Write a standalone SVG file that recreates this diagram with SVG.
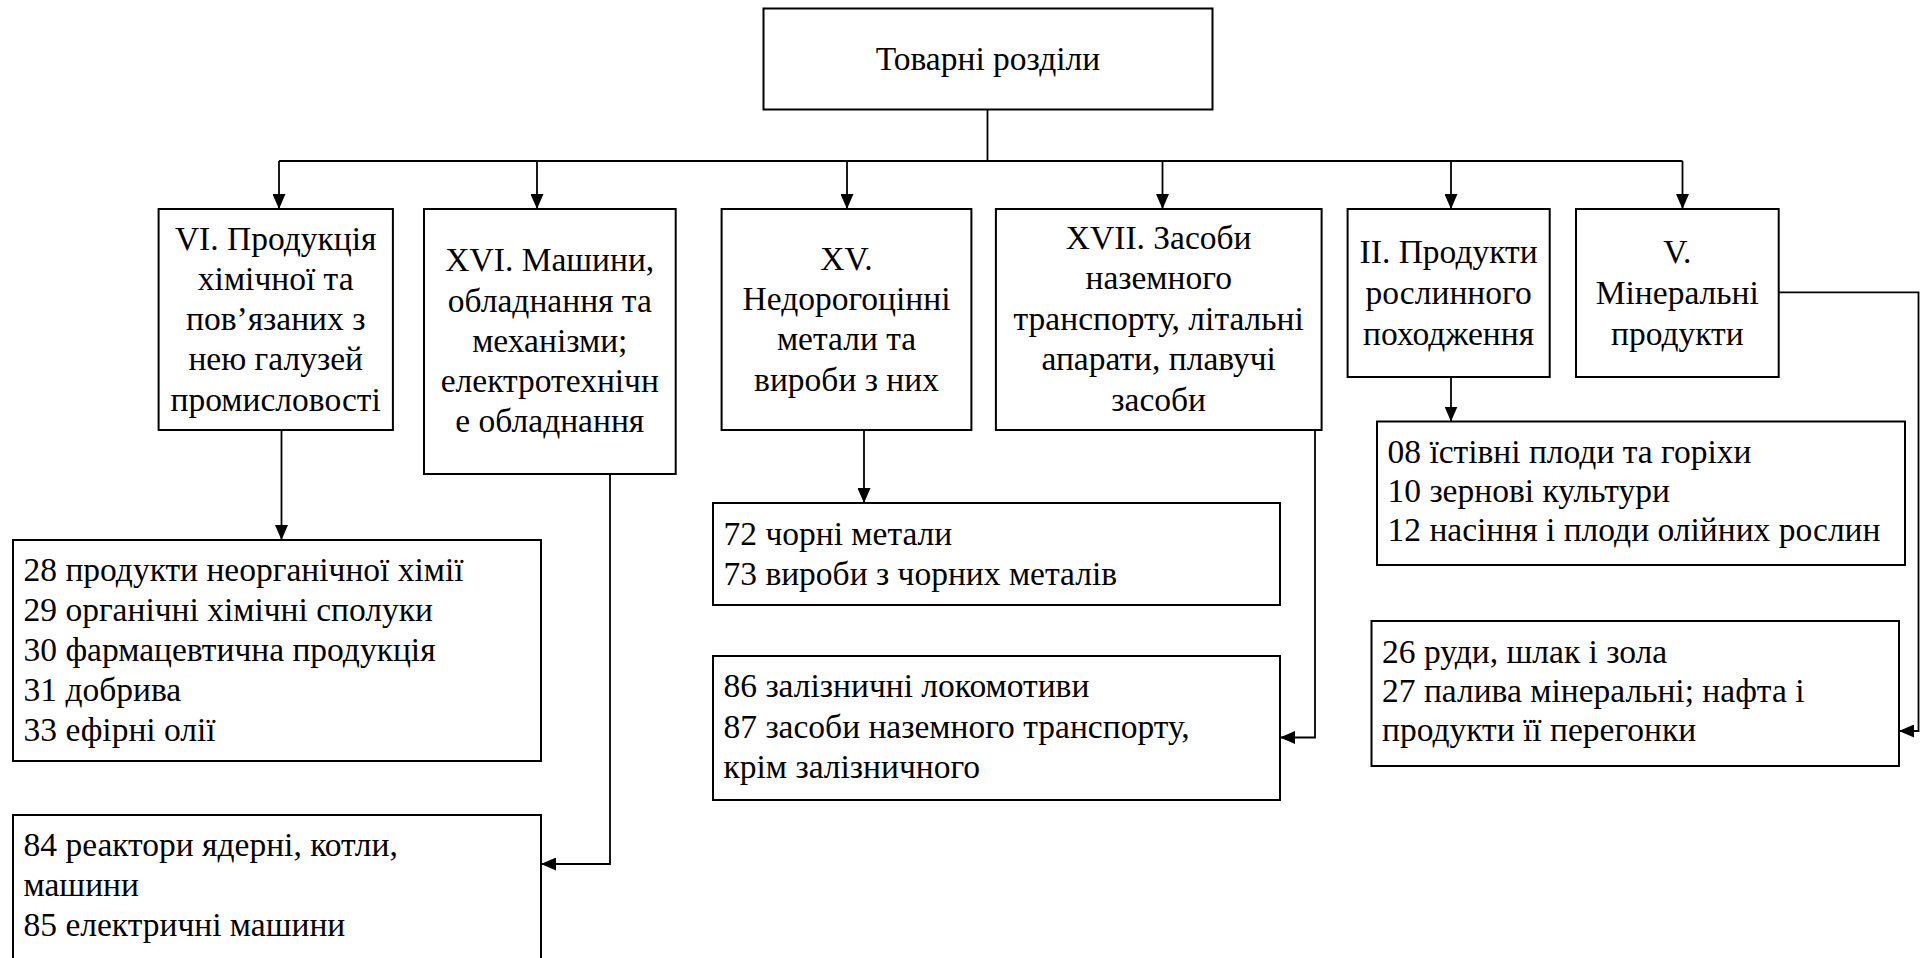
<svg xmlns="http://www.w3.org/2000/svg" width="1921" height="958" viewBox="0 0 1921 958">
<style>
.box{fill:#fff;stroke:#000;stroke-width:2}
.t{font-size:33.5px;fill:#000}
.c{text-anchor:middle}
.con{fill:none;stroke:#000;stroke-width:1.8}
</style>
<defs>
<marker id="arr" markerUnits="userSpaceOnUse" viewBox="0 0 15 13" refX="15" refY="6.5" markerWidth="15" markerHeight="13" orient="auto">
<path d="M0,0 L15,6.5 L0,13 z" fill="#000"/>
</marker>
</defs>
<rect width="1921" height="958" fill="#fff"/>

<g id="connectors">
<path class="con" d="M987.5,109.5 V161"/>
<path class="con" d="M279,161 H1682.5"/>
<path class="con" d="M279,161 V209" marker-end="url(#arr)"/>
<path class="con" d="M537,161 V209" marker-end="url(#arr)"/>
<path class="con" d="M847,161 V209" marker-end="url(#arr)"/>
<path class="con" d="M1162.5,161 V209" marker-end="url(#arr)"/>
<path class="con" d="M1451,161 V209" marker-end="url(#arr)"/>
<path class="con" d="M1682.5,161 V209" marker-end="url(#arr)"/>
<path class="con" d="M281.5,430 V540" marker-end="url(#arr)"/>
<path class="con" d="M610,474 V864 H541" marker-end="url(#arr)"/>
<path class="con" d="M864,430 V503" marker-end="url(#arr)"/>
<path class="con" d="M1315,430 V737.5 H1280" marker-end="url(#arr)"/>
<path class="con" d="M1451,377 V421.5" marker-end="url(#arr)"/>
<path class="con" d="M1778.7,292.3 H1918.5 V731 H1899" marker-end="url(#arr)"/>
</g>

<g id="n-top">
<rect class="box" x="763.5" y="8.5" width="449" height="101"/>
<text class="t c" style="font-family:'Liberation Serif',serif" x="988" y="70">Товарні розділи</text>
</g>

<g id="n-vi">
<rect class="box" x="158.6" y="209" width="234.3" height="221"/>
<text class="t c" style="font-family:'Liberation Serif',serif" x="275.7" y="250">VI. Продукція</text>
<text class="t c" style="font-family:'Liberation Serif',serif" x="275.7" y="290">хімічної та</text>
<text class="t c" style="font-family:'Liberation Serif',serif" x="275.7" y="330">пов’язаних з</text>
<text class="t c" style="font-family:'Liberation Serif',serif" x="275.7" y="370">нею галузей</text>
<text class="t c" style="font-family:'Liberation Serif',serif" x="275.7" y="410.5">промисловості</text>
</g>

<g id="n-xvi">
<rect class="box" x="424" y="209" width="251.7" height="265"/>
<text class="t c" style="font-family:'Liberation Serif',serif" x="549.8" y="271">XVI. Машини,</text>
<text class="t c" style="font-family:'Liberation Serif',serif" x="549.8" y="311.5">обладнання та</text>
<text class="t c" style="font-family:'Liberation Serif',serif" x="549.8" y="352">механізми;</text>
<text class="t c" style="font-family:'Liberation Serif',serif" x="549.8" y="392">електротехнічн</text>
<text class="t c" style="font-family:'Liberation Serif',serif" x="549.8" y="432">е обладнання</text>
</g>

<g id="n-xv">
<rect class="box" x="721.6" y="209" width="249.8" height="221"/>
<text class="t c" style="font-family:'Liberation Serif',serif" x="846.5" y="269.5">XV.</text>
<text class="t c" style="font-family:'Liberation Serif',serif" x="846.5" y="310">Недорогоцінні</text>
<text class="t c" style="font-family:'Liberation Serif',serif" x="846.5" y="350">метали та</text>
<text class="t c" style="font-family:'Liberation Serif',serif" x="846.5" y="390.5">вироби з них</text>
</g>

<g id="n-xvii">
<rect class="box" x="995.9" y="209" width="325.7" height="221"/>
<text class="t c" style="font-family:'Liberation Serif',serif" x="1158.7" y="249">XVII. Засоби</text>
<text class="t c" style="font-family:'Liberation Serif',serif" x="1158.7" y="289">наземного</text>
<text class="t c" style="font-family:'Liberation Serif',serif" x="1158.7" y="330">транспорту, літальні</text>
<text class="t c" style="font-family:'Liberation Serif',serif" x="1158.7" y="370">апарати, плавучі</text>
<text class="t c" style="font-family:'Liberation Serif',serif" x="1158.7" y="410.5">засоби</text>
</g>

<g id="n-ii">
<rect class="box" x="1347.6" y="209" width="202.1" height="168"/>
<text class="t c" style="font-family:'Liberation Serif',serif" x="1448.6" y="263">II. Продукти</text>
<text class="t c" style="font-family:'Liberation Serif',serif" x="1448.6" y="304">рослинного</text>
<text class="t c" style="font-family:'Liberation Serif',serif" x="1448.6" y="345">походження</text>
</g>

<g id="n-v">
<rect class="box" x="1576" y="209" width="202.7" height="168"/>
<text class="t c" style="font-family:'Liberation Serif',serif" x="1677.3" y="263">V.</text>
<text class="t c" style="font-family:'Liberation Serif',serif" x="1677.3" y="304">Мінеральні</text>
<text class="t c" style="font-family:'Liberation Serif',serif" x="1677.3" y="345">продукти</text>
</g>

<g id="n-28">
<rect class="box" x="13" y="540" width="528" height="221"/>
<text class="t" style="font-family:'Liberation Serif',serif" x="23.5" y="581">28 продукти неорганічної хімії</text>
<text class="t" style="font-family:'Liberation Serif',serif" x="23.5" y="621">29 органічні хімічні сполуки</text>
<text class="t" style="font-family:'Liberation Serif',serif" x="23.5" y="661">30 фармацевтична продукція</text>
<text class="t" style="font-family:'Liberation Serif',serif" x="23.5" y="701">31 добрива</text>
<text class="t" style="font-family:'Liberation Serif',serif" x="23.5" y="741">33 ефірні олії</text>
</g>

<g id="n-84">
<rect class="box" x="13" y="815" width="528" height="155"/>
<text class="t" style="font-family:'Liberation Serif',serif" x="23.5" y="856">84 реактори ядерні, котли,</text>
<text class="t" style="font-family:'Liberation Serif',serif" x="23.5" y="896">машини</text>
<text class="t" style="font-family:'Liberation Serif',serif" x="23.5" y="936">85 електричні машини</text>
</g>

<g id="n-72">
<rect class="box" x="713" y="503" width="567" height="102"/>
<text class="t" style="font-family:'Liberation Serif',serif" x="723.5" y="545">72 чорні метали</text>
<text class="t" style="font-family:'Liberation Serif',serif" x="723.5" y="585">73 вироби з чорних металів</text>
</g>

<g id="n-86">
<rect class="box" x="713" y="656" width="567" height="144"/>
<text class="t" style="font-family:'Liberation Serif',serif" x="723.5" y="697">86 залізничні локомотиви</text>
<text class="t" style="font-family:'Liberation Serif',serif" x="723.5" y="737.5">87 засоби наземного транспорту,</text>
<text class="t" style="font-family:'Liberation Serif',serif" x="723.5" y="778">крім залізничного</text>
</g>

<g id="n-08">
<rect class="box" x="1377" y="421.5" width="528" height="143.5"/>
<text class="t" style="font-family:'Liberation Serif',serif" x="1387.5" y="463">08 їстівні плоди та горіхи</text>
<text class="t" style="font-family:'Liberation Serif',serif" x="1387.5" y="502">10 зернові культури</text>
<text class="t" style="font-family:'Liberation Serif',serif" x="1387.5" y="541">12 насіння і плоди олійних рослин</text>
</g>

<g id="n-26">
<rect class="box" x="1371.5" y="621" width="527.5" height="145"/>
<text class="t" style="font-family:'Liberation Serif',serif" x="1382" y="663">26 руди, шлак і зола</text>
<text class="t" style="font-family:'Liberation Serif',serif" x="1382" y="702">27 палива мінеральні; нафта і</text>
<text class="t" style="font-family:'Liberation Serif',serif" x="1382" y="741">продукти її перегонки</text>
</g>
</svg>
